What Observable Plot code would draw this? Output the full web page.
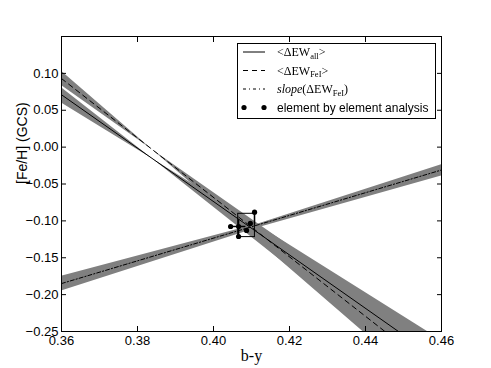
<!DOCTYPE html>
<html><head><meta charset="utf-8">
<script src="https://cdn.jsdelivr.net/npm/d3@7"></script>
<script src="https://cdn.jsdelivr.net/npm/@observablehq/plot@0.6"></script>
<style>
body{margin:0;background:#fff;}
#wrap{position:relative;width:491px;height:368px;overflow:hidden;}
#lsvg{position:absolute;left:237px;top:43px;will-change:transform;}
</style></head><body>
<div id="wrap"></div>
<script>
// tick values
const xTicks = [0.36, 0.38, 0.40, 0.42, 0.44, 0.46];
const yTicks = [-0.25, -0.20, -0.15, -0.10, -0.05, 0.00, 0.05, 0.10];

// mean lines (x end points and y values)
const lineX = [0.36, 0.46];
const allY = [0.071, -0.291];
const feY = [0.093, -0.310];
const slopeY = [-0.185, -0.031];

// uncertainty bands
const allBandX = [0.36, 0.384, 0.46];
const allBandLo = [0.060, -0.016, -0.326];
const allBandHi = [0.0805, -0.016, -0.262];
const feBandX = [0.36, 0.384, 0.46];
const feBandLo = [0.0835, -0.004, -0.342];
const feBandHi = [0.103, -0.004, -0.278];
const slopeBandX = [0.36, 0.412, 0.46];
const slopeBandLo = [-0.195, -0.109, -0.039];
const slopeBandHi = [-0.175, -0.104, -0.024];

// element by element analysis
const elemX = [0.4045, 0.4066, 0.4066, 0.4087, 0.4108, 0.4097];
const elemY = [-0.1076, -0.1076, -0.1212, -0.113, -0.0882, -0.1035];
const errX1 = [0.4045, 0.4066, 0.4108];
const errX2 = [0.4084, 0.4066, 0.4108];
const errY1 = [-0.1076, -0.0977, -0.0882];
const errY2 = [-0.1076, -0.1212, -0.105];
const boxX = [0.4065, 0.4109];
const boxY = [-0.122, -0.0904];

// legend labels
const legendLabels = [
  [["<\u0394EW", "n"], ["all", "sub"], [">", "n"]],
  [["<\u0394EW", "n"], ["FeI", "sub"], [">", "n"]],
  [["slope", "i"], ["(\u0394EW", "n"], ["FeI", "sub"], [")", "n"]],
  [["element by element analysis", "sans"]]
];
const legendDash = [null, "5,4", "3,3,1,3", "dots"];

const band = (xs, lo, hi) => xs.map((x, i) => ({x, lo: lo[i], hi: hi[i]}));
const line = (xs, ys) => xs.map((x, i) => ({x, y: ys[i]}));
const elems = elemX.map((x, i) => ({x, y: elemY[i]}));
const errs = errX1.map((x, i) => ({x1: x, x2: errX2[i], y1: errY1[i], y2: errY2[i]}));

const fmtY = d => (d < 0 ? "\u2212" : "") + Math.abs(d).toFixed(2);
const fmtX = d => d.toFixed(2);

const plot = Plot.plot({
  width: 491, height: 368,
  marginLeft: 61, marginRight: 50, marginTop: 36, marginBottom: 37,
  x: {domain: [0.36, 0.46]},
  y: {domain: [-0.25, 0.15]},
  style: {fontFamily: "'Liberation Sans', Arial, sans-serif", fontSize: "13px", color: "#000", background: "#fff"},
  marks: [
    Plot.areaY(band(allBandX, allBandLo, allBandHi), {x: "x", y1: "lo", y2: "hi", fill: "#808080", clip: true}),
    Plot.areaY(band(feBandX, feBandLo, feBandHi), {x: "x", y1: "lo", y2: "hi", fill: "#808080", clip: true}),
    Plot.areaY(band(slopeBandX, slopeBandLo, slopeBandHi), {x: "x", y1: "lo", y2: "hi", fill: "#808080", clip: true}),
    Plot.line(line(lineX, allY), {x: "x", y: "y", stroke: "#000", strokeWidth: 1, clip: true}),
    Plot.line(line(lineX, feY), {x: "x", y: "y", stroke: "#000", strokeWidth: 1, strokeDasharray: "5,4", clip: true}),
    Plot.line(line(lineX, slopeY), {x: "x", y: "y", stroke: "#000", strokeWidth: 1, strokeDasharray: "4,2,1.2,2", clip: true}),
    Plot.rect([{x1: boxX[0], x2: boxX[1], y1: boxY[0], y2: boxY[1]}], {x1: "x1", x2: "x2", y1: "y1", y2: "y2", fill: "none", stroke: "#000", strokeWidth: 1}),
    Plot.link(errs, {x1: "x1", x2: "x2", y1: "y1", y2: "y2", stroke: "#000", strokeWidth: 1.5}),
    Plot.dot(elems, {x: "x", y: "y", r: 2.6, fill: "#000", stroke: "none"}),
    Plot.frame({stroke: "#000", strokeWidth: 1}),
    Plot.axisX({anchor: "bottom", ticks: xTicks, tickFormat: fmtX, tickSize: -5, tickPadding: 9, label: null}),
    Plot.axisX({anchor: "top", ticks: xTicks, tickFormat: () => "", tickSize: -5, label: null}),
    Plot.axisY({anchor: "left", ticks: yTicks, tickFormat: fmtY, tickSize: -5, tickPadding: 8, label: null}),
    Plot.axisY({anchor: "right", ticks: yTicks, tickFormat: () => "", tickSize: -5, label: null}),
    Plot.text(["b-y"], {frameAnchor: "bottom", dy: 29, fontFamily: "'Liberation Serif', serif", fontSize: 16, fill: "#000"}),
    Plot.text(["[Fe/H] (GCS)"], {frameAnchor: "left", dx: -39, rotate: -90, fontSize: 14, fill: "#000"})
  ]
});
const wrap = document.getElementById("wrap");
wrap.appendChild(plot);

// legend (SVG)
const rowY = [9, 27.5, 46, 64.5];
const lg = d3.select(wrap).append("svg").attr("id", "lsvg").attr("width", 199).attr("height", 76);
lg.append("rect").attr("x", 0.5).attr("y", 0.5).attr("width", 198).attr("height", 75)
  .attr("fill", "#fff").attr("stroke", "#000");
legendLabels.forEach((parts, i) => {
  const y = rowY[i];
  const dash = legendDash[i];
  if (dash === "dots") {
    [7, 27].forEach(cx => lg.append("circle").attr("cx", cx).attr("cy", y).attr("r", 2.6).attr("fill", "#000"));
  } else {
    const l = lg.append("line").attr("x1", 6).attr("x2", 28).attr("y1", y).attr("y2", y)
      .attr("stroke", "#000").attr("stroke-width", 1);
    if (dash) l.attr("stroke-dasharray", dash);
  }
  const t = lg.append("text").attr("x", 40).attr("y", y + 4).attr("fill", "#000")
    .attr("font-family", "'Liberation Serif', 'DejaVu Serif', serif").attr("font-size", 12);
  let shift = 0;
  parts.forEach(([s, kind]) => {
    const sp = t.append("tspan").text(s);
    if (kind === "sub") { sp.attr("font-size", 8.5).attr("dy", 2.5 - shift); shift = 2.5; }
    else { if (shift) sp.attr("dy", -shift); shift = 0; }
    if (kind === "i") sp.attr("font-style", "italic");
    if (kind === "sans") sp.attr("font-family", "'Liberation Sans', Arial, sans-serif").attr("font-size", 12);
  });
});
</script>
</body></html>
